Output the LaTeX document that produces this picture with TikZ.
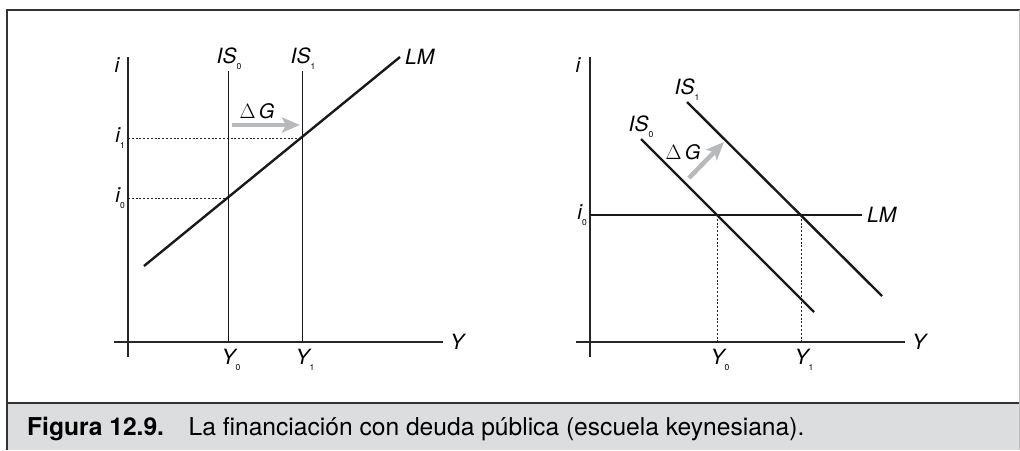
\documentclass[tikz,border=0pt]{standalone}
\usepackage{fontspec}
\setmainfont{TeX Gyre Heros}
\usepackage{xcolor}
\usetikzlibrary{arrows.meta, positioning}
\definecolor{Frame_Dark}{HTML}{333333}
\definecolor{Band_Gray}{HTML}{DCDDDF}
\definecolor{Shift_Gray}{HTML}{B8B9BB}
\newcommand{\subidx}[1]{\raisebox{-0.55ex}{\fontsize{8.5}{8.5}\selectfont\upshape #1}}

\begin{document}
\begin{tikzpicture}[x=1pt, y=-1pt,
    axis/.style={line width=1.4pt, black!85},
    curve/.style={line width=2.4pt, black!90},
    thincurve/.style={line width=1pt, black!90},
    guide/.style={line width=0.9pt, black!85, dash pattern=on 2pt off 1.8pt},
    lbl/.style={font=\fontsize{21}{21}\selectfont\itshape, inner sep=1pt},
    dglbl/.style={font=\fontsize{20}{20}\selectfont, inner sep=0pt},
    shiftarrow/.style={-{Stealth[length=18pt, width=15pt, inset=4pt]}, line width=4.5pt, Shift_Gray}
]
    \useasboundingbox (0,0) rectangle (1020,450);

    % Frame and caption band
    \fill[Band_Gray] (7,403) rectangle (1020,450);
    \draw[Frame_Dark, line width=2pt] (7,450) -- (7,10) -- (1020,10);
    \draw[Frame_Dark, line width=2pt] (7,403) -- (1020,403);
    \draw[black!25, line width=0.6pt] (1019.5,10) -- (1019.5,450);
    \node[anchor=base west, font=\fontsize{24.6}{24.6}\selectfont, inner sep=0pt] (caption) at (27,435)
        {\textbf{Figura 12.9.}\hspace{1em}La financiación con deuda pública (escuela keynesiana).};

    % ---------- Left panel: vertical IS ----------
    \coordinate (lYtop) at (128,57);
    \coordinate (lYbot) at (128,357);
    \coordinate (lXleft) at (114,342);
    \coordinate (lXright) at (443,342);
    \coordinate (lIS0a) at (228,71);
    \coordinate (lIS0b) at (228,342);
    \coordinate (lIS1a) at (302,71);
    \coordinate (lIS1b) at (302,342);
    \coordinate (lLMa) at (144,266);
    \coordinate (lLMb) at (400,57);
    \coordinate (lE0) at (228,198);
    \coordinate (lE1) at (302,138);
    \coordinate (li0) at (128,198);
    \coordinate (li1) at (128,138);
    \coordinate (lGa) at (232,125);
    \coordinate (lGb) at (300,125);

    % Axes
    \draw[axis] (lYtop) -- (lYbot);
    \draw[axis] (lXleft) -- (lXright);
    \node[lbl] (lIlab) at (117,65) {i};
    \node[lbl, right=6pt of lXright] (lYlab) {Y};

    % Guides
    \draw[guide] (li0) -- (lE0);
    \draw[guide] (li1) -- (lE1);

    % IS and LM
    \draw[thincurve] (lIS0a) -- (lIS0b);
    \draw[thincurve] (lIS1a) -- (lIS1b);
    \draw[curve] (lLMa) -- (lLMb);

    % Shift
    \draw[shiftarrow] (lGa) -- (lGb);
    \node[dglbl] (lDG) at (257,111) {$\Delta$\,\textit{G}};

    % Labels
    \node[lbl, above=0pt of lIS0a, xshift=1pt] (lIS0lab) {IS\subidx{0}};
    \node[lbl, above=0pt of lIS1a, xshift=1pt] (lIS1lab) {IS\subidx{1}};
    \node[lbl, right=4pt of lLMb] (lLMlab) {LM};
    \node[lbl, left=2pt of li0] (li0lab) {i\subidx{0}};
    \node[lbl, left=2pt of li1] (li1lab) {i\subidx{1}};
    \node[lbl, below=6pt of lIS0b, xshift=3pt] (lY0lab) {Y\subidx{0}};
    \node[lbl, below=6pt of lIS1b, xshift=3pt] (lY1lab) {Y\subidx{1}};

    % ---------- Right panel: horizontal LM ----------
    \coordinate (rYtop) at (590,57);
    \coordinate (rYbot) at (590,357);
    \coordinate (rXleft) at (576,342);
    \coordinate (rXright) at (905,342);
    \coordinate (rLMa) at (590,215);
    \coordinate (rLMb) at (862,215);
    \coordinate (rIS0a) at (641,139);
    \coordinate (rIS0b) at (814,312);
    \coordinate (rIS1a) at (687,102);
    \coordinate (rIS1b) at (882,296);
    \coordinate (rE0) at (717,215);
    \coordinate (rE1) at (801,215);
    \coordinate (rY0) at (717,342);
    \coordinate (rY1) at (801,342);
    \coordinate (rGa) at (689,178);
    \coordinate (rGb) at (724,142);

    % Axes
    \draw[axis] (rYtop) -- (rYbot);
    \draw[axis] (rXleft) -- (rXright);
    \node[lbl] (rIlab) at (578,65) {i};
    \node[lbl, right=6pt of rXright] (rYlab) {Y};

    % Guides
    \draw[guide] (rE0) -- (rY0);
    \draw[guide] (rE1) -- (rY1);

    % IS and LM
    \draw[curve] (rLMa) -- (rLMb);
    \draw[curve] (rIS0a) -- (rIS0b);
    \draw[curve] (rIS1a) -- (rIS1b);

    % Shift
    \draw[shiftarrow] (rGa) -- (rGb);
    \node[dglbl] (rDG) at (683,152) {$\Delta$\,\textit{G}};

    % Labels
    \node[lbl, above=0pt of rIS0a] (rIS0lab) {IS\subidx{0}};
    \node[lbl, above=0pt of rIS1a] (rIS1lab) {IS\subidx{1}};
    \node[lbl, right=4pt of rLMb] (rLMlab) {LM};
    \node[lbl, left=2pt of rLMa] (ri0lab) {i\subidx{0}};
    \node[lbl, below=6pt of rY0, xshift=3pt] (rY0lab) {Y\subidx{0}};
    \node[lbl, below=6pt of rY1, xshift=3pt] (rY1lab) {Y\subidx{1}};
\end{tikzpicture}
\end{document}
